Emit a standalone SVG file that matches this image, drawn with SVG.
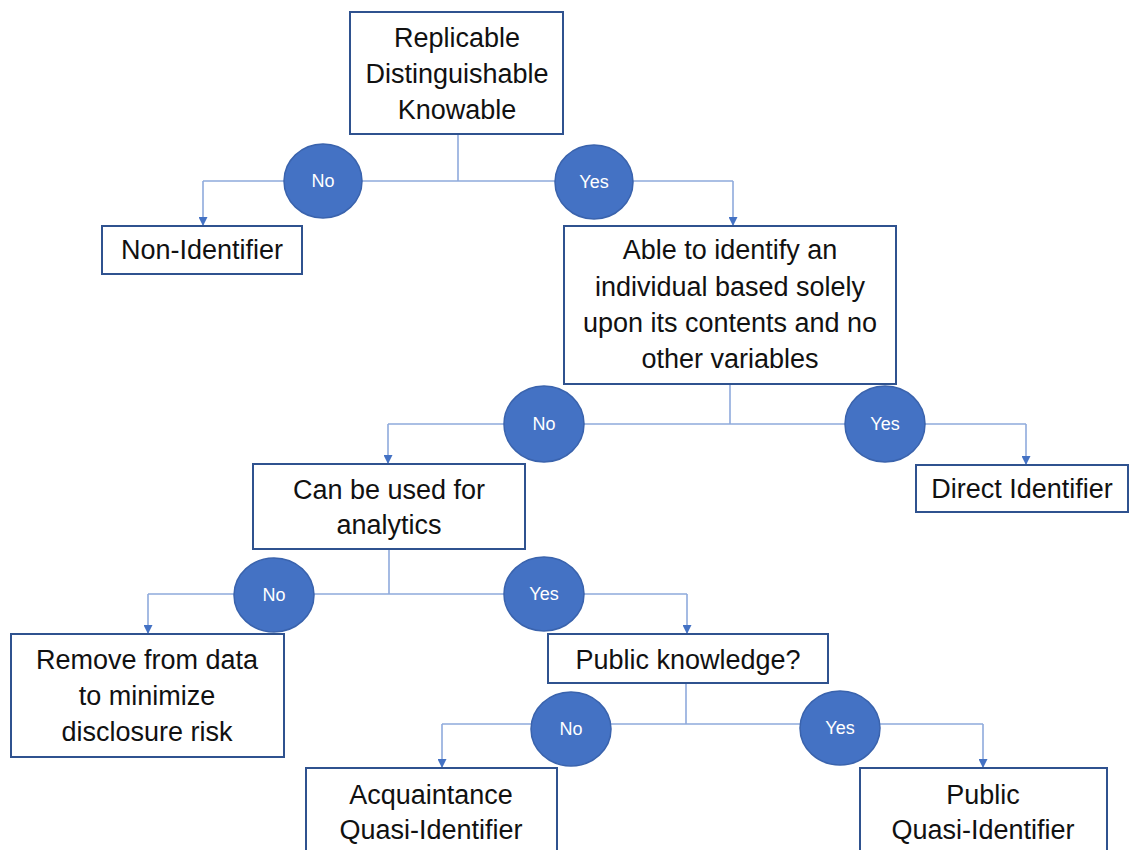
<svg xmlns="http://www.w3.org/2000/svg" width="1130" height="850" viewBox="0 0 1130 850">
<defs>
<marker id="arr" viewBox="0 0 10 10" refX="10" refY="5" markerWidth="9" markerHeight="9" markerUnits="userSpaceOnUse" orient="auto">
<path d="M0,0 L10,5 L0,10 z" fill="#4472C4"/>
</marker>
<style>
.box{fill:#fff;stroke:#2F528F;stroke-width:2}
.t{font-family:"Liberation Sans",Arial,sans-serif;font-size:27px;fill:#111;text-anchor:middle;dominant-baseline:central}
.c{fill:#4472C4;stroke:#3A63AD;stroke-width:1.5}
.ct{font-family:"Liberation Sans",Arial,sans-serif;font-size:18px;fill:#fff;text-anchor:middle;dominant-baseline:central}
.ln{fill:none;stroke:#8FAADC;stroke-width:1.6}
.ar{fill:none;stroke:#8FAADC;stroke-width:1.6;marker-end:url(#arr)}
</style>
</defs>
<rect width="1130" height="850" fill="#fff"/>
<g id="connectors">
<path class="ln" d="M458,134 V181 M203,181 H733"/>
<path class="ar" d="M203,181 V226"/>
<path class="ar" d="M733,181 V226"/>
<path class="ln" d="M730,384 V424 M388,424 H1026"/>
<path class="ar" d="M388,424 V464"/>
<path class="ar" d="M1026,424 V465"/>
<path class="ln" d="M389,549 V594 M148,594 H687"/>
<path class="ar" d="M148,594 V634"/>
<path class="ar" d="M687,594 V634"/>
<path class="ln" d="M686,683 V724 M442,724 H983"/>
<path class="ar" d="M442,724 V768"/>
<path class="ar" d="M983,724 V768"/>
</g>
<g id="n-root"><rect class="box" x="350" y="12" width="213" height="122"/>
<text class="t" x="457" y="38">Replicable</text><text class="t" x="457" y="74">Distinguishable</text><text class="t" x="457" y="110">Knowable</text></g>
<g id="n-nonid"><rect class="box" x="102" y="226" width="200" height="48"/><text class="t" x="202" y="250">Non-Identifier</text></g>
<g id="n-able"><rect class="box" x="564" y="226" width="332" height="158"/>
<text class="t" x="730" y="250">Able to identify an</text><text class="t" x="730" y="287">individual based solely</text><text class="t" x="730" y="323">upon its contents and no</text><text class="t" x="730" y="359">other variables</text></g>
<g id="n-direct"><rect class="box" x="916" y="465" width="212" height="47"/><text class="t" x="1022" y="489">Direct Identifier</text></g>
<g id="n-analytics"><rect class="box" x="253" y="464" width="272" height="85"/>
<text class="t" x="389" y="490">Can be used for</text><text class="t" x="389" y="525">analytics</text></g>
<g id="n-remove"><rect class="box" x="11" y="634" width="273" height="123"/>
<text class="t" x="147" y="660">Remove from data</text><text class="t" x="147" y="696">to minimize</text><text class="t" x="147" y="732">disclosure risk</text></g>
<g id="n-public"><rect class="box" x="548" y="634" width="280" height="49"/><text class="t" x="688" y="660">Public knowledge?</text></g>
<g id="n-acq"><rect class="box" x="306" y="768" width="251" height="100"/>
<text class="t" x="431" y="795">Acquaintance</text><text class="t" x="431" y="830">Quasi-Identifier</text></g>
<g id="n-pqi"><rect class="box" x="860" y="768" width="247" height="100"/>
<text class="t" x="983" y="795">Public</text><text class="t" x="983" y="830">Quasi-Identifier</text></g>
<g id="d-no1"><ellipse class="c" cx="323" cy="181" rx="39" ry="37"/><text class="ct" x="323" y="181">No</text></g>
<g id="d-yes1"><ellipse class="c" cx="594" cy="182" rx="39" ry="37"/><text class="ct" x="594" y="182">Yes</text></g>
<g id="d-no2"><ellipse class="c" cx="544" cy="424" rx="40" ry="38"/><text class="ct" x="544" y="424">No</text></g>
<g id="d-yes2"><ellipse class="c" cx="885" cy="424" rx="40" ry="38"/><text class="ct" x="885" y="424">Yes</text></g>
<g id="d-no3"><ellipse class="c" cx="274" cy="595" rx="40" ry="37"/><text class="ct" x="274" y="595">No</text></g>
<g id="d-yes3"><ellipse class="c" cx="544" cy="594" rx="40" ry="37"/><text class="ct" x="544" y="594">Yes</text></g>
<g id="d-no4"><ellipse class="c" cx="571" cy="729" rx="40" ry="37"/><text class="ct" x="571" y="729">No</text></g>
<g id="d-yes4"><ellipse class="c" cx="840" cy="728" rx="40" ry="37"/><text class="ct" x="840" y="728">Yes</text></g>
</svg>
